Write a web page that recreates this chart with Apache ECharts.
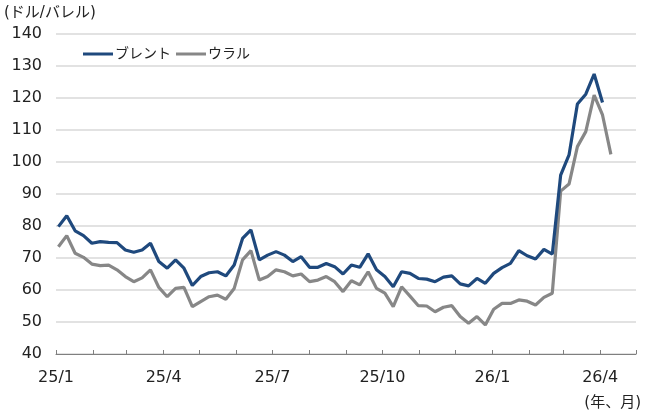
<!DOCTYPE html>
<html>
<head>
<meta charset="utf-8">
<script src="https://cdn.jsdelivr.net/npm/echarts@6/dist/echarts.min.js"></script>
<style>
html,body{margin:0;padding:0;background:#fff;}
#chart{width:650px;height:419px;}
</style>
</head>
<body>
<div id="chart"></div>
<script>
// Weekly observation dates (Fridays)
const dates = [
 '2025-01-03','2025-01-10','2025-01-17','2025-01-24','2025-01-31',
 '2025-02-07','2025-02-14','2025-02-21','2025-02-28',
 '2025-03-07','2025-03-14','2025-03-21','2025-03-28',
 '2025-04-04','2025-04-11','2025-04-18','2025-04-25',
 '2025-05-02','2025-05-09','2025-05-16','2025-05-23','2025-05-30',
 '2025-06-06','2025-06-13','2025-06-20','2025-06-27',
 '2025-07-04','2025-07-11','2025-07-18','2025-07-25',
 '2025-08-01','2025-08-08','2025-08-15','2025-08-22','2025-08-29',
 '2025-09-05','2025-09-12','2025-09-19','2025-09-26',
 '2025-10-03','2025-10-10','2025-10-17','2025-10-24','2025-10-31',
 '2025-11-07','2025-11-14','2025-11-21','2025-11-28',
 '2025-12-05','2025-12-12','2025-12-19','2025-12-26',
 '2026-01-02','2026-01-09','2026-01-16','2026-01-23','2026-01-30',
 '2026-02-06','2026-02-13','2026-02-20','2026-02-27',
 '2026-03-06','2026-03-13','2026-03-20','2026-03-27',
 '2026-04-03','2026-04-10'
];
// ブレント (USD/bbl)
const brent = [
 79.8, 83.2, 78.5, 77.0, 74.6, 75.1, 74.9, 74.8, 72.5, 71.8,
 72.5, 74.6, 68.9, 66.8, 69.4, 66.8, 61.4, 64.2, 65.4, 65.7,
 64.4, 67.8, 76.1, 78.8, 69.4, 70.9, 72.0, 70.9, 68.9, 70.4,
 67.1, 67.1, 68.3, 67.3, 65.0, 67.8, 67.1, 71.3, 66.3, 64.2,
 61.0, 65.7, 65.2, 63.6, 63.4, 62.6, 64.0, 64.4, 61.9, 61.3,
 63.6, 62.1, 65.2, 67.0, 68.3, 72.3, 70.7, 69.7, 72.7, 71.2,
 95.9, 102.2, 118.1, 121.2, 127.5, 118.6
];
// ウラル (USD/bbl)
const urals = [
 73.5, 77.0, 71.5, 70.2, 68.1, 67.6, 67.8, 66.3, 64.2, 62.6,
 63.8, 66.3, 60.8, 57.9, 60.5, 60.8, 54.8, 56.4, 57.9, 58.4,
 57.1, 60.5, 69.4, 72.3, 63.1, 64.2, 66.3, 65.7, 64.4, 65.0,
 62.6, 63.1, 64.2, 62.6, 59.5, 62.9, 61.6, 65.7, 60.5, 59.0,
 54.8, 61.0, 58.1, 55.1, 55.0, 53.2, 54.6, 55.1, 51.7, 49.6,
 51.7, 49.1, 54.0, 55.8, 55.8, 56.9, 56.5, 55.3, 57.7, 59.0,
 90.9, 93.1, 104.8, 109.5, 120.9, 114.7, 102.4
];
// Month boundaries for ticks and labels
const monthStarts = [
 '2025-01-01','2025-02-01','2025-03-01','2025-04-01','2025-05-01','2025-06-01',
 '2025-07-01','2025-08-01','2025-09-01','2025-10-01','2025-11-01','2025-12-01',
 '2026-01-01','2026-02-01','2026-03-01','2026-04-01','2026-05-01'
];
const monthLabels = ['25/1','','','25/4','','','25/7','','','25/10','','','26/1','','','26/4',''];
const seriesNames = ['ブレント','ウラル'];
const yTicks = [40,50,60,70,80,90,100,110,120,130,140];

const origin = Date.UTC(2025,0,1);
function dayOffset(s){
  const p = s.split('-').map(Number);
  return (Date.UTC(p[0],p[1]-1,p[2]) - origin)/86400000;
}
const tickDays = monthStarts.map(dayOffset);
const labelDays = [];
const labelMap = {};
monthLabels.forEach((l,i)=>{ if(l){ labelDays.push(tickDays[i]); labelMap[tickDays[i]] = l; }});

const brentData = brent.map((v,i)=>[dayOffset(dates[i]), v]);
const uralsData = urals.map((v,i)=>[dayOffset(dates[i]), v]);

const FONT = '"DejaVu Sans", "Noto Sans CJK JP", sans-serif';
const chart = echarts.init(document.getElementById('chart'), null, {renderer:'canvas'});
chart.setOption({
  animation:false,
  textStyle:{fontFamily:FONT},
  grid:{left:56,right:14,top:34,bottom:65,containLabel:false},
  legend:{
    left:78, top:42, itemGap:5, itemWidth:30, itemHeight:3, icon:'rect',
    textStyle:{fontSize:14,color:'#222',fontFamily:FONT,padding:[0,0,0,-3]},
    data:seriesNames
  },
  xAxis:{
    type:'value', min:tickDays[0], max:tickDays[tickDays.length-1],
    axisLine:{show:true,lineStyle:{color:'#7f7f7f',width:1}},
    axisTick:{show:true,inside:true,length:4,lineStyle:{color:'#7f7f7f'},customValues:tickDays},
    axisLabel:{customValues:labelDays,formatter:v=>labelMap[v]||'',fontSize:16,color:'#222',margin:16,fontFamily:FONT},
    splitLine:{show:false}
  },
  yAxis:{
    type:'value', min:yTicks[0], max:yTicks[yTicks.length-1], interval:10,
    axisLine:{show:false}, axisTick:{show:false},
    axisLabel:{fontSize:16,color:'#222',margin:14,fontFamily:FONT},
    splitLine:{show:true,lineStyle:{color:'#d9d9d9',width:1.5}}
  },
  graphic:[
    {type:'text',left:4,top:6,style:{text:'(ドル/バレル)',fontSize:15,fill:'#222',fontFamily:FONT}},
    {type:'text',right:9,top:396,style:{text:'(年、月)',fontSize:15,fill:'#222',fontFamily:FONT}}
  ],
  series:[
    {name:seriesNames[0],type:'line',data:brentData,showSymbol:false,
     lineStyle:{color:'#1f497d',width:3.2},itemStyle:{color:'#1f497d'},z:3},
    {name:seriesNames[1],type:'line',data:uralsData,showSymbol:false,
     lineStyle:{color:'#878787',width:3.2},itemStyle:{color:'#878787'},z:2}
  ]
});
</script>
</body>
</html>
